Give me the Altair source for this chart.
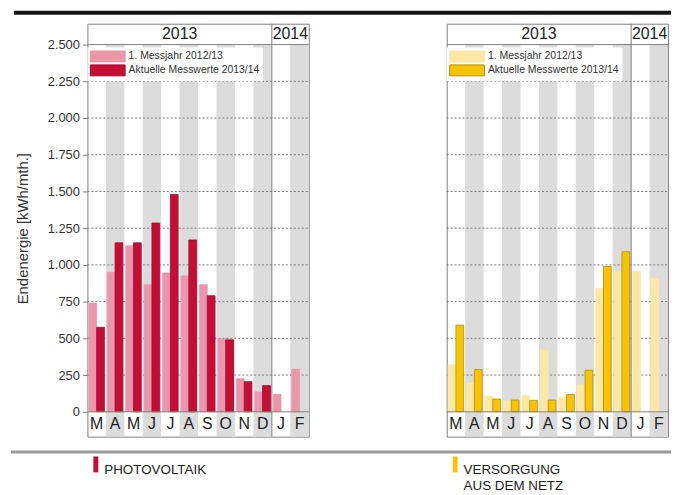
import altair as alt
import pandas as pd

# ---------------- data ----------------
months = ["Mär", "Apr", "Mai", "Jun", "Jul", "Aug", "Sep", "Okt", "Nov", "Dez", "Jan", "Feb"]
letters = ["M", "A", "M", "J", "J", "A", "S", "O", "N", "D", "J", "F"]
series_names = ["1. Messjahr 2012/13", "Aktuelle Messwerte 2013/14"]

pv_prev = [740, 950, 1130, 865, 945, 925, 865, 495, 225, 135, 118, 290]
pv_curr = [575, 1150, 1150, 1285, 1480, 1170, 790, 490, 205, 178, None, None]
net_prev = [320, 195, 107, 72, 112, 420, 100, 183, 840, 955, 955, 908]
net_curr = [590, 288, 87, 80, 78, 80, 118, 283, 990, 1090, None, None]

y_ticks = [0, 250, 500, 750, 1000, 1250, 1500, 1750, 2000, 2250, 2500]
grid_vals = y_ticks[1:-1]
frame_vals = [y_ticks[0], y_ticks[-1]]
stripe_months = months[1::2]
years = ["2013", "2014"]
year_center_month = ["Aug", "Feb"]   # band whose left edge is the centre of the year span
year_start_2014 = ["Jan"]

# ---------------- style ----------------
FONT = "Liberation Sans"
W, H = 223, 416
Y_DOMAIN = [-169, 2642]
STRIPE = "#dcdcdc"
FRAME = "#808080"

x_scale = alt.Scale(domain=months, paddingInner=0, paddingOuter=0)


def long_table(prev, curr):
    rows = []
    for m, a, b in zip(months, prev, curr):
        if a is not None:
            rows.append({"month": m, "series": series_names[0], "value": a})
        if b is not None:
            rows.append({"month": m, "series": series_names[1], "value": b})
    return pd.DataFrame(rows)


def panel(prev, curr, light, dark, dark_stroke, show_axis, deco):
    y_axis = None
    if show_axis:
        y_axis = alt.Axis(
            values=y_ticks,
            labelExpr="replace(format(datum.value, ','), ',', '.')",
            domain=False, grid=False, ticks=True, tickSize=5, tickColor=FRAME,
            labelFontSize=13, labelFont=FONT, labelColor="#333", labelPadding=3,
            title="Endenergie [kWh/mth.]", titleFont=FONT, titleFontSize=15,
            titleFontWeight="normal", titleColor="#333",
            titleX=-65, titleY=206, titleAngle=-90, titleAlign="center",
            titleBaseline="middle",
        )
    y_scale = alt.Scale(domain=Y_DOMAIN, nice=False, zero=False)
    y_title = "Endenergie [kWh/mth.]" if show_axis else None

    def Y(field):
        return alt.Y(field, scale=y_scale, axis=y_axis, title=y_title)

    legend = alt.Legend(
        orient="none", legendX=0, legendY=24, title=None, fillColor="white",
        padding=3, symbolType="M-3.18,-1H3.18V1H-3.18Z", symbolSize=121,
        symbolOffset=11.5, labelOffset=15,
        labelFontSize=10.5, labelFont=FONT, labelColor="#333", rowPadding=-2,
        symbolStrokeWidth=1,
    )

    stripes = alt.Chart(pd.DataFrame({"month": stripe_months})).mark_rect(color=STRIPE).encode(
        x=alt.X("month:N", scale=x_scale, axis=None),
        y=alt.Y(datum=y_ticks[-1], scale=y_scale, axis=y_axis, title=y_title),
        y2=alt.value(H),
    )
    grid = alt.Chart(pd.DataFrame({"g": grid_vals})).mark_rule(
        color="#7a7a7a", strokeDash=[2, 2], strokeWidth=1
    ).encode(y=Y("g:Q"), x=alt.value(0), x2=alt.value(W))

    bars = alt.Chart(long_table(prev, curr)).mark_bar(strokeWidth=0.8).encode(
        x=alt.X("month:N", scale=x_scale, axis=None),
        xOffset=alt.XOffset("series:N", sort=series_names,
                            scale=alt.Scale(domain=series_names, paddingInner=0, paddingOuter=0.19)),
        y=Y("value:Q"),
        y2=alt.datum(0),
        color=alt.Color("series:N", scale=alt.Scale(domain=series_names, range=[light, dark]), legend=legend),
        stroke=alt.Stroke("series:N", scale=alt.Scale(domain=series_names, range=[light, dark_stroke]), legend=legend),
    )

    frame = alt.Chart(pd.DataFrame({"g": frame_vals})).mark_rule(color=FRAME, strokeWidth=1).encode(
        y=Y("g:Q"), x=alt.value(0), x2=alt.value(W)
    )
    sep = alt.Chart(pd.DataFrame({"month": year_start_2014})).mark_rule(color=FRAME, strokeWidth=1).encode(
        x=alt.X("month:N", scale=x_scale, axis=None, bandPosition=0),
        y=alt.value(0), y2=alt.value(H),
    )
    year_txt = alt.Chart(pd.DataFrame({"month": year_center_month, "year": years})).mark_text(
        font=FONT, fontSize=16, color="#222", baseline="middle", align="center"
    ).encode(
        x=alt.X("month:N", scale=x_scale, axis=None, bandPosition=0),
        y=alt.value(10.5), text="year:N",
    )
    month_txt = alt.Chart(pd.DataFrame({"month": months, "letter": letters})).mark_text(
        font=FONT, fontSize=16, color="#222", baseline="middle", align="center"
    ).encode(
        x=alt.X("month:N", scale=x_scale, axis=None),
        y=alt.value(403.5), text="letter:N",
    )

    layers = [stripes, grid, bars, frame, sep, year_txt, month_txt] + deco
    return alt.layer(*layers).properties(width=W, height=H)


one = pd.DataFrame({"k": [0]})

# decorations of the left panel (page-level lines and bottom legend key)
top_line = alt.Chart(one).mark_rule(color="#151515", strokeWidth=4).encode(
    x=alt.value(-74), x2=alt.value(588), y=alt.value(-11))
bottom_line = alt.Chart(one).mark_rule(color="#9a9a9a", strokeWidth=3).encode(
    x=alt.value(-77), x2=alt.value(588), y=alt.value(431.5))


def key(color, lines):
    layers = [alt.Chart(one).mark_rect(color=color).encode(
        x=alt.value(6), x2=alt.value(11), y=alt.value(436), y2=alt.value(452))]
    for i, line in enumerate(lines):
        layers.append(alt.Chart(pd.DataFrame({"t": [line]})).mark_text(
            font=FONT, fontSize=13.5, color="#222", align="left", baseline="alphabetic"
        ).encode(x=alt.value(17), y=alt.value(454 + 16 * i), text="t:N"))
    return layers


left = panel(pv_prev, pv_curr, "#eb97ab", "#c70d35", "#9e0b2b", True,
             [top_line, bottom_line] + key("#c70d35", ["PHOTOVOLTAIK"]))
right = panel(net_prev, net_curr, "#fde8a6", "#f8c300", "#b38f00", False,
              key("#f8c300", ["VERSORGUNG", "AUS DEM NETZ"]))

chart = alt.hconcat(left, right, spacing=139, bounds="flush",
                    padding={"left": 1, "top": 0, "right": 0, "bottom": 0}).resolve_scale(
    color="independent", stroke="independent", y="independent", x="independent"
).resolve_legend(color="independent", stroke="independent").configure_view(
    stroke=FRAME, strokeWidth=1
)

chart.save("out.html", embed_options={"renderer": "svg", "actions": False})
